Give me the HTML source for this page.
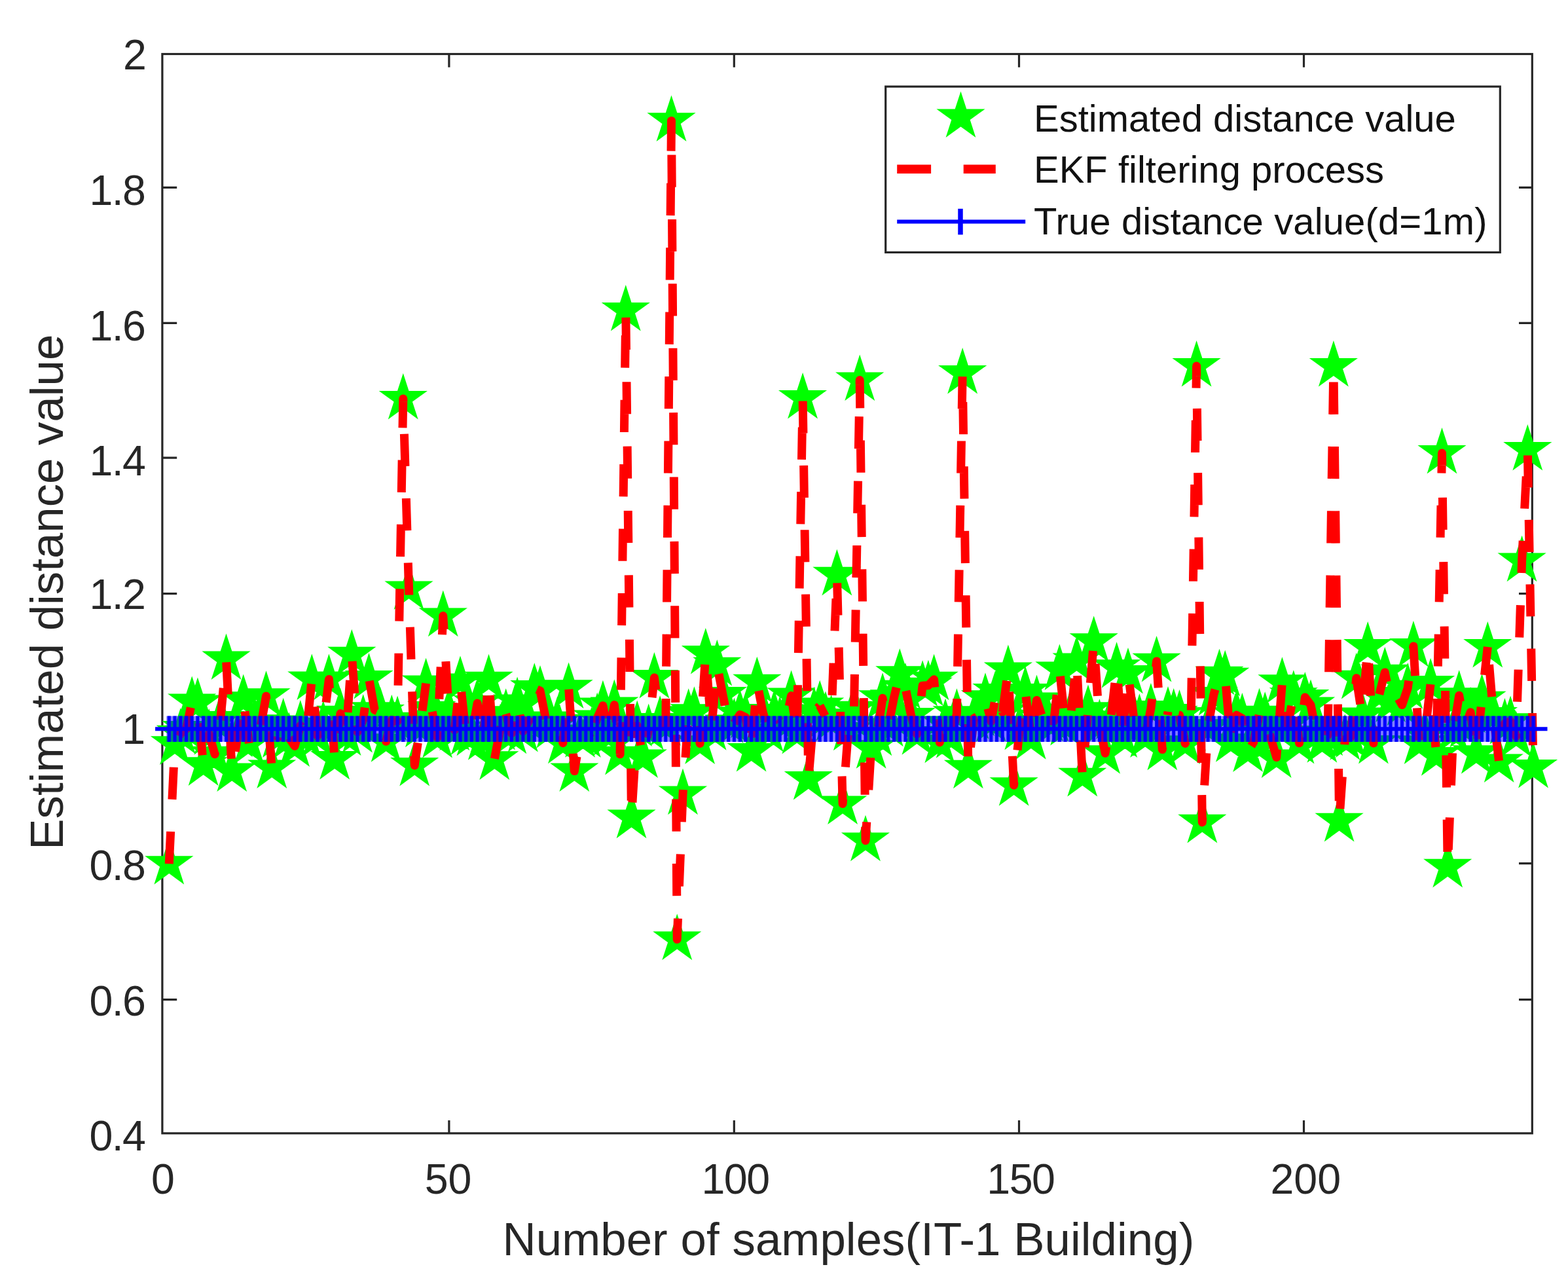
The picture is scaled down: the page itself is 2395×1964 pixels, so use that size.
<!DOCTYPE html>
<html lang="en"><head><meta charset="utf-8"><title>Estimated distance value</title>
<style>html,body{margin:0;padding:0;background:#fff;}body{width:2395px;height:1964px;overflow:hidden;}svg{display:block;}text{font-family:"Liberation Sans",sans-serif;fill:#262626;}</style>
</head><body>
<svg width="2395" height="1964" viewBox="0 0 2395 1964">
<rect x="0" y="0" width="2395" height="1964" fill="#ffffff"/>
<g id="axes" stroke="#262626" stroke-width="3.2" fill="none" stroke-linecap="butt">
<rect x="247.9" y="82.5" width="2092.4" height="1648.3"/>
<path d="M685.9,1730.8V1710.9 M685.9,82.5V102.8"/>
<path d="M1121.3,1730.8V1710.9 M1121.3,82.5V102.8"/>
<path d="M1556.5,1730.8V1710.9 M1556.5,82.5V102.8"/>
<path d="M1991.5,1730.8V1710.9 M1991.5,82.5V102.8"/>
<path d="M247.9,1526.6H270.2 M2340.3,1526.6H2320.0"/>
<path d="M247.9,1318.7H270.2 M2340.3,1318.7H2320.0"/>
<path d="M247.9,1112.7H270.2 M2340.3,1112.7H2320.0"/>
<path d="M247.9,906.6H270.2 M2340.3,906.6H2320.0"/>
<path d="M247.9,699.1H270.2 M2340.3,699.1H2320.0"/>
<path d="M247.9,493.3H270.2 M2340.3,493.3H2320.0"/>
<path d="M247.9,286.4H270.2 M2340.3,286.4H2320.0"/>
</g>
<g id="est" fill="#00ff00">
<path d="M258.3,1280.2L267.1,1307.2L295.4,1307.2L272.5,1323.8L281.2,1350.8L258.3,1334.1L235.4,1350.8L244.1,1323.8L221.2,1307.2L249.6,1307.2ZM267.0,1097.4L275.8,1124.3L304.1,1124.3L281.2,1141.0L290.0,1167.9L267.0,1151.3L244.1,1167.9L252.9,1141.0L229.9,1124.3L258.3,1124.3ZM275.8,1080.9L284.5,1107.8L312.8,1107.8L289.9,1124.5L298.7,1151.5L275.8,1134.8L252.8,1151.5L261.6,1124.5L238.7,1107.8L267.0,1107.8ZM284.5,1074.1L293.2,1101.0L321.6,1101.0L298.6,1117.7L307.4,1144.7L284.5,1128.0L261.5,1144.7L270.3,1117.7L247.4,1101.0L275.7,1101.0ZM293.2,1032.5L301.9,1059.4L330.3,1059.4L307.4,1076.1L316.1,1103.0L293.2,1086.4L270.3,1103.0L279.0,1076.1L256.1,1059.4L284.4,1059.4ZM301.9,1034.5L310.7,1061.5L339.0,1061.5L316.1,1078.1L324.8,1105.1L301.9,1088.4L279.0,1105.1L287.7,1078.1L264.8,1061.5L293.2,1061.5ZM310.6,1129.3L319.4,1156.3L347.7,1156.3L324.8,1172.9L333.6,1199.9L310.6,1183.2L287.7,1199.9L296.5,1172.9L273.5,1156.3L301.9,1156.3ZM319.3,1082.1L328.1,1109.1L356.4,1109.1L333.5,1125.7L342.3,1152.7L319.3,1136.0L296.4,1152.7L305.2,1125.7L282.3,1109.1L310.6,1109.1ZM328.1,1112.8L336.8,1139.8L365.2,1139.8L342.2,1156.4L351.0,1183.4L328.1,1166.7L305.1,1183.4L313.9,1156.4L291.0,1139.8L319.3,1139.8ZM336.8,1059.0L345.5,1085.9L373.9,1085.9L351.0,1102.6L359.7,1129.5L336.8,1112.9L313.9,1129.5L322.6,1102.6L299.7,1085.9L328.0,1085.9ZM345.5,967.6L354.3,994.5L382.6,994.5L359.7,1011.2L368.4,1038.1L345.5,1021.5L322.6,1038.1L331.3,1011.2L308.4,994.5L336.7,994.5ZM354.2,1138.6L363.0,1165.5L391.3,1165.5L368.4,1182.2L377.1,1209.1L354.2,1192.5L331.3,1209.1L340.1,1182.2L317.1,1165.5L345.5,1165.5ZM362.9,1085.7L371.7,1112.7L400.0,1112.7L377.1,1129.3L385.9,1156.3L362.9,1139.6L340.0,1156.3L348.8,1129.3L325.8,1112.7L354.2,1112.7ZM371.7,1029.4L380.4,1056.3L408.7,1056.3L385.8,1073.0L394.6,1099.9L371.7,1083.3L348.7,1099.9L357.5,1073.0L334.6,1056.3L362.9,1056.3ZM380.4,1096.4L389.1,1123.3L417.5,1123.3L394.5,1140.0L403.3,1166.9L380.4,1150.2L357.5,1166.9L366.2,1140.0L343.3,1123.3L371.6,1123.3ZM389.1,1064.3L397.9,1091.3L426.2,1091.3L403.3,1107.9L412.0,1134.9L389.1,1118.2L366.2,1134.9L374.9,1107.9L352.0,1091.3L380.3,1091.3ZM397.8,1072.1L406.6,1099.1L434.9,1099.1L412.0,1115.7L420.7,1142.7L397.8,1126.0L374.9,1142.7L383.6,1115.7L360.7,1099.1L389.1,1099.1ZM406.5,1024.2L415.3,1051.2L443.6,1051.2L420.7,1067.8L429.5,1094.8L406.5,1078.1L383.6,1094.8L392.4,1067.8L369.4,1051.2L397.8,1051.2ZM415.2,1133.4L424.0,1160.4L452.3,1160.4L429.4,1177.0L438.2,1204.0L415.2,1187.3L392.3,1204.0L401.1,1177.0L378.2,1160.4L406.5,1160.4ZM424.0,1086.5L432.7,1113.4L461.1,1113.4L438.1,1130.1L446.9,1157.0L424.0,1140.4L401.0,1157.0L409.8,1130.1L386.9,1113.4L415.2,1113.4ZM432.7,1065.7L441.4,1092.6L469.8,1092.6L446.9,1109.3L455.6,1136.2L432.7,1119.6L409.8,1136.2L418.5,1109.3L395.6,1092.6L423.9,1092.6ZM441.4,1087.4L450.2,1114.3L478.5,1114.3L455.6,1131.0L464.3,1157.9L441.4,1141.3L418.5,1157.9L427.2,1131.0L404.3,1114.3L432.6,1114.3ZM450.1,1100.5L458.9,1127.4L487.2,1127.4L464.3,1144.1L473.0,1171.0L450.1,1154.4L427.2,1171.0L436.0,1144.1L413.0,1127.4L441.4,1127.4ZM458.8,1069.1L467.6,1096.0L495.9,1096.0L473.0,1112.7L481.8,1139.6L458.8,1122.9L435.9,1139.6L444.7,1112.7L421.7,1096.0L450.1,1096.0ZM467.6,1085.9L476.3,1112.9L504.6,1112.9L481.7,1129.6L490.5,1156.5L467.6,1139.8L444.6,1156.5L453.4,1129.6L430.5,1112.9L458.8,1112.9ZM476.3,998.5L485.0,1025.4L513.4,1025.4L490.4,1042.1L499.2,1069.0L476.3,1052.4L453.4,1069.0L462.1,1042.1L439.2,1025.4L467.5,1025.4ZM485.0,1084.9L493.8,1111.9L522.1,1111.9L499.2,1128.5L507.9,1155.5L485.0,1138.8L462.1,1155.5L470.8,1128.5L447.9,1111.9L476.2,1111.9ZM493.7,1069.5L502.5,1096.4L530.8,1096.4L507.9,1113.1L516.6,1140.0L493.7,1123.4L470.8,1140.0L479.5,1113.1L456.6,1096.4L485.0,1096.4ZM502.4,998.5L511.2,1025.4L539.5,1025.4L516.6,1042.1L525.4,1069.0L502.4,1052.4L479.5,1069.0L488.3,1042.1L465.3,1025.4L493.7,1025.4ZM511.1,1120.0L519.9,1147.0L548.2,1147.0L525.3,1163.6L534.1,1190.6L511.1,1173.9L488.2,1190.6L497.0,1163.6L474.1,1147.0L502.4,1147.0ZM519.9,1050.8L528.6,1077.8L557.0,1077.8L534.0,1094.4L542.8,1121.4L519.9,1104.7L496.9,1121.4L505.7,1094.4L482.8,1077.8L511.1,1077.8ZM528.6,1083.4L537.3,1110.3L565.7,1110.3L542.8,1127.0L551.5,1153.9L528.6,1137.3L505.7,1153.9L514.4,1127.0L491.5,1110.3L519.8,1110.3ZM537.3,960.9L546.1,987.8L574.4,987.8L551.5,1004.5L560.2,1031.4L537.3,1014.8L514.4,1031.4L523.1,1004.5L500.2,987.8L528.5,987.8ZM546.0,1078.8L554.8,1105.8L583.1,1105.8L560.2,1122.4L568.9,1149.4L546.0,1132.7L523.1,1149.4L531.9,1122.4L508.9,1105.8L537.3,1105.8ZM554.7,1060.1L563.5,1087.0L591.8,1087.0L568.9,1103.7L577.7,1130.6L554.7,1114.0L531.8,1130.6L540.6,1103.7L517.7,1087.0L546.0,1087.0ZM563.5,996.9L572.2,1023.9L600.6,1023.9L577.6,1040.5L586.4,1067.5L563.5,1050.8L540.5,1067.5L549.3,1040.5L526.4,1023.9L554.7,1023.9ZM572.2,1045.3L580.9,1072.2L609.3,1072.2L586.3,1088.9L595.1,1115.8L572.2,1099.2L549.3,1115.8L558.0,1088.9L535.1,1072.2L563.4,1072.2ZM580.9,1049.0L589.7,1075.9L618.0,1075.9L595.1,1092.6L603.8,1119.5L580.9,1102.9L558.0,1119.5L566.7,1092.6L543.8,1075.9L572.1,1075.9ZM589.6,1093.3L598.4,1120.2L626.7,1120.2L603.8,1136.9L612.5,1163.8L589.6,1147.2L566.7,1163.8L575.4,1136.9L552.5,1120.2L580.9,1120.2ZM598.3,1060.7L607.1,1087.7L635.4,1087.7L612.5,1104.3L621.3,1131.3L598.3,1114.6L575.4,1131.3L584.2,1104.3L561.2,1087.7L589.6,1087.7ZM607.1,1062.4L615.8,1089.3L644.1,1089.3L621.2,1106.0L630.0,1132.9L607.1,1116.3L584.1,1132.9L592.9,1106.0L570.0,1089.3L598.3,1089.3ZM615.8,569.9L624.5,596.9L652.9,596.9L629.9,613.5L638.7,640.5L615.8,623.8L592.8,640.5L601.6,613.5L578.7,596.9L607.0,596.9ZM624.5,860.4L633.2,887.4L661.6,887.4L638.7,904.0L647.4,931.0L624.5,914.3L601.6,931.0L610.3,904.0L587.4,887.4L615.7,887.4ZM633.2,1129.9L642.0,1156.9L670.3,1156.9L647.4,1173.5L656.1,1200.5L633.2,1183.8L610.3,1200.5L619.0,1173.5L596.1,1156.9L624.4,1156.9ZM641.9,1070.7L650.7,1097.6L679.0,1097.6L656.1,1114.3L664.8,1141.3L641.9,1124.6L619.0,1141.3L627.8,1114.3L604.8,1097.6L633.2,1097.6ZM650.6,1004.7L659.4,1031.6L687.7,1031.6L664.8,1048.3L673.6,1075.2L650.6,1058.6L627.7,1075.2L636.5,1048.3L613.6,1031.6L641.9,1031.6ZM659.4,1043.9L668.1,1070.9L696.5,1070.9L673.5,1087.5L682.3,1114.5L659.4,1097.8L636.4,1114.5L645.2,1087.5L622.3,1070.9L650.6,1070.9ZM668.1,1087.0L676.8,1113.9L705.2,1113.9L682.2,1130.6L691.0,1157.5L668.1,1140.9L645.2,1157.5L653.9,1130.6L631.0,1113.9L659.3,1113.9ZM676.8,901.6L685.6,928.6L713.9,928.6L691.0,945.2L699.7,972.2L676.8,955.5L653.9,972.2L662.6,945.2L639.7,928.6L668.0,928.6ZM685.5,1049.4L694.3,1076.3L722.6,1076.3L699.7,1093.0L708.4,1119.9L685.5,1103.3L662.6,1119.9L671.3,1093.0L648.4,1076.3L676.8,1076.3ZM694.2,1075.7L703.0,1102.7L731.3,1102.7L708.4,1119.4L717.2,1146.3L694.2,1129.6L671.3,1146.3L680.1,1119.4L657.1,1102.7L685.5,1102.7ZM703.0,1001.6L711.7,1028.5L740.0,1028.5L717.1,1045.2L725.9,1072.1L703.0,1055.5L680.0,1072.1L688.8,1045.2L665.9,1028.5L694.2,1028.5ZM711.7,1082.4L720.4,1109.4L748.8,1109.4L725.8,1126.0L734.6,1153.0L711.7,1136.3L688.7,1153.0L697.5,1126.0L674.6,1109.4L702.9,1109.4ZM720.4,1083.7L729.1,1110.6L757.5,1110.6L734.6,1127.3L743.3,1154.2L720.4,1137.6L697.5,1154.2L706.2,1127.3L683.3,1110.6L711.6,1110.6ZM729.1,1035.1L737.9,1062.0L766.2,1062.0L743.3,1078.7L752.0,1105.6L729.1,1089.0L706.2,1105.6L714.9,1078.7L692.0,1062.0L720.4,1062.0ZM737.8,1090.2L746.6,1117.1L774.9,1117.1L752.0,1133.8L760.8,1160.7L737.8,1144.1L714.9,1160.7L723.7,1133.8L700.7,1117.1L729.1,1117.1ZM746.5,998.8L755.3,1025.7L783.6,1025.7L760.7,1042.4L769.5,1069.3L746.5,1052.7L723.6,1069.3L732.4,1042.4L709.5,1025.7L737.8,1025.7ZM755.3,1120.4L764.0,1147.3L792.4,1147.3L769.4,1164.0L778.2,1190.9L755.3,1174.3L732.3,1190.9L741.1,1164.0L718.2,1147.3L746.5,1147.3ZM764.0,1074.8L772.7,1101.8L801.1,1101.8L778.2,1118.4L786.9,1145.4L764.0,1128.7L741.1,1145.4L749.8,1118.4L726.9,1101.8L755.2,1101.8ZM772.7,1051.3L781.5,1078.3L809.8,1078.3L786.9,1094.9L795.6,1121.9L772.7,1105.2L749.8,1121.9L758.5,1094.9L735.6,1078.3L763.9,1078.3ZM781.4,1080.8L790.2,1107.7L818.5,1107.7L795.6,1124.4L804.3,1151.3L781.4,1134.7L758.5,1151.3L767.2,1124.4L744.3,1107.7L772.7,1107.7ZM790.1,1033.5L798.9,1060.5L827.2,1060.5L804.3,1077.1L813.1,1104.1L790.1,1087.4L767.2,1104.1L776.0,1077.1L753.0,1060.5L781.4,1060.5ZM798.9,1077.8L807.6,1104.8L835.9,1104.8L813.0,1121.4L821.8,1148.4L798.9,1131.7L775.9,1148.4L784.7,1121.4L761.8,1104.8L790.1,1104.8ZM807.6,1062.1L816.3,1089.1L844.7,1089.1L821.7,1105.8L830.5,1132.7L807.6,1116.0L784.6,1132.7L793.4,1105.8L770.5,1089.1L798.8,1089.1ZM816.3,1012.2L825.0,1039.1L853.4,1039.1L830.5,1055.8L839.2,1082.7L816.3,1066.1L793.4,1082.7L802.1,1055.8L779.2,1039.1L807.5,1039.1ZM825.0,1016.0L833.8,1042.9L862.1,1042.9L839.2,1059.6L847.9,1086.5L825.0,1069.9L802.1,1086.5L810.8,1059.6L787.9,1042.9L816.3,1042.9ZM833.7,1059.5L842.5,1086.4L870.8,1086.4L847.9,1103.1L856.7,1130.0L833.7,1113.4L810.8,1130.0L819.6,1103.1L796.6,1086.4L825.0,1086.4ZM842.4,1071.8L851.2,1098.8L879.5,1098.8L856.6,1115.4L865.4,1142.4L842.4,1125.7L819.5,1142.4L828.3,1115.4L805.4,1098.8L833.7,1098.8ZM851.2,1063.8L859.9,1090.7L888.3,1090.7L865.3,1107.4L874.1,1134.3L851.2,1117.7L828.2,1134.3L837.0,1107.4L814.1,1090.7L842.4,1090.7ZM859.9,1095.7L868.6,1122.7L897.0,1122.7L874.1,1139.3L882.8,1166.3L859.9,1149.6L837.0,1166.3L845.7,1139.3L822.8,1122.7L851.1,1122.7ZM868.6,1011.4L877.4,1038.3L905.7,1038.3L882.8,1055.0L891.5,1081.9L868.6,1065.3L845.7,1081.9L854.4,1055.0L831.5,1038.3L859.8,1038.3ZM877.3,1138.6L886.1,1165.5L914.4,1165.5L891.5,1182.2L900.2,1209.1L877.3,1192.5L854.4,1209.1L863.2,1182.2L840.2,1165.5L868.6,1165.5ZM886.0,1086.3L894.8,1113.2L923.1,1113.2L900.2,1129.9L909.0,1156.8L886.0,1140.2L863.1,1156.8L871.9,1129.9L848.9,1113.2L877.3,1113.2ZM894.8,1086.4L903.5,1113.3L931.8,1113.3L908.9,1130.0L917.7,1156.9L894.8,1140.3L871.8,1156.9L880.6,1130.0L857.7,1113.3L886.0,1113.3ZM903.5,1079.6L912.2,1106.5L940.6,1106.5L917.6,1123.2L926.4,1150.1L903.5,1133.5L880.6,1150.1L889.3,1123.2L866.4,1106.5L894.7,1106.5ZM912.2,1057.6L921.0,1084.6L949.3,1084.6L926.4,1101.2L935.1,1128.2L912.2,1111.5L889.3,1128.2L898.0,1101.2L875.1,1084.6L903.4,1084.6ZM920.9,1038.7L929.7,1065.6L958.0,1065.6L935.1,1082.3L943.8,1109.2L920.9,1092.6L898.0,1109.2L906.7,1082.3L883.8,1065.6L912.2,1065.6ZM929.6,1083.3L938.4,1110.2L966.7,1110.2L943.8,1126.9L952.6,1153.8L929.6,1137.2L906.7,1153.8L915.5,1126.9L892.5,1110.2L920.9,1110.2ZM938.3,1037.6L947.1,1064.6L975.4,1064.6L952.5,1081.2L961.3,1108.2L938.3,1091.5L915.4,1108.2L924.2,1081.2L901.3,1064.6L929.6,1064.6ZM947.1,1112.8L955.8,1139.8L984.2,1139.8L961.2,1156.4L970.0,1183.4L947.1,1166.7L924.1,1183.4L932.9,1156.4L910.0,1139.8L938.3,1139.8ZM955.8,435.0L964.5,461.9L992.9,461.9L970.0,478.6L978.7,505.5L955.8,488.9L932.9,505.5L941.6,478.6L918.7,461.9L947.0,461.9ZM964.5,1209.7L973.3,1236.6L1001.6,1236.6L978.7,1253.3L987.4,1280.2L964.5,1263.6L941.6,1280.2L950.3,1253.3L927.4,1236.6L955.7,1236.6ZM973.2,1069.4L982.0,1096.3L1010.3,1096.3L987.4,1113.0L996.1,1139.9L973.2,1123.3L950.3,1139.9L959.1,1113.0L936.1,1096.3L964.5,1096.3ZM981.9,1117.5L990.7,1144.4L1019.0,1144.4L996.1,1161.1L1004.9,1188.0L981.9,1171.4L959.0,1188.0L967.8,1161.1L944.8,1144.4L973.2,1144.4ZM990.7,1074.6L999.4,1101.6L1027.7,1101.6L1004.8,1118.2L1013.6,1145.2L990.7,1128.5L967.7,1145.2L976.5,1118.2L953.6,1101.6L981.9,1101.6ZM999.4,996.0L1008.1,1023.0L1036.5,1023.0L1013.5,1039.6L1022.3,1066.6L999.4,1049.9L976.5,1066.6L985.2,1039.6L962.3,1023.0L990.6,1023.0ZM1008.1,1061.9L1016.9,1088.9L1045.2,1088.9L1022.3,1105.5L1031.0,1132.5L1008.1,1115.8L985.2,1132.5L993.9,1105.5L971.0,1088.9L999.3,1088.9ZM1016.8,1068.1L1025.6,1095.1L1053.9,1095.1L1031.0,1111.7L1039.7,1138.7L1016.8,1122.0L993.9,1138.7L1002.6,1111.7L979.7,1095.1L1008.1,1095.1ZM1025.5,145.4L1034.3,172.3L1062.6,172.3L1039.7,189.0L1048.5,215.9L1025.5,199.3L1002.6,215.9L1011.4,189.0L988.4,172.3L1016.8,172.3ZM1034.2,1395.6L1043.0,1422.6L1071.3,1422.6L1048.4,1439.2L1057.2,1466.2L1034.2,1449.5L1011.3,1466.2L1020.1,1439.2L997.2,1422.6L1025.5,1422.6ZM1043.0,1173.6L1051.7,1200.6L1080.1,1200.6L1057.1,1217.2L1065.9,1244.2L1043.0,1227.5L1020.0,1244.2L1028.8,1217.2L1005.9,1200.6L1034.2,1200.6ZM1051.7,1051.2L1060.4,1078.2L1088.8,1078.2L1065.9,1094.8L1074.6,1121.8L1051.7,1105.1L1028.8,1121.8L1037.5,1094.8L1014.6,1078.2L1042.9,1078.2ZM1060.4,1048.2L1069.2,1075.2L1097.5,1075.2L1074.6,1091.8L1083.3,1118.8L1060.4,1102.1L1037.5,1118.8L1046.2,1091.8L1023.3,1075.2L1051.6,1075.2ZM1069.1,1096.4L1077.9,1123.3L1106.2,1123.3L1083.3,1140.0L1092.0,1166.9L1069.1,1150.2L1046.2,1166.9L1055.0,1140.0L1032.0,1123.3L1060.4,1123.3ZM1077.8,958.9L1086.6,985.9L1114.9,985.9L1092.0,1002.5L1100.8,1029.5L1077.8,1012.8L1054.9,1029.5L1063.7,1002.5L1040.8,985.9L1069.1,985.9ZM1086.6,1075.2L1095.3,1102.2L1123.7,1102.2L1100.7,1118.8L1109.5,1145.8L1086.6,1129.1L1063.6,1145.8L1072.4,1118.8L1049.5,1102.2L1077.8,1102.2ZM1095.3,976.8L1104.0,1003.8L1132.4,1003.8L1109.4,1020.5L1118.2,1047.4L1095.3,1030.7L1072.4,1047.4L1081.1,1020.5L1058.2,1003.8L1086.5,1003.8ZM1104.0,1022.2L1112.8,1049.1L1141.1,1049.1L1118.2,1065.8L1126.9,1092.7L1104.0,1076.1L1081.1,1092.7L1089.8,1065.8L1066.9,1049.1L1095.2,1049.1ZM1112.7,1064.4L1121.5,1091.4L1149.8,1091.4L1126.9,1108.0L1135.6,1135.0L1112.7,1118.3L1089.8,1135.0L1098.5,1108.0L1075.6,1091.4L1104.0,1091.4ZM1121.4,1065.4L1130.2,1092.4L1158.5,1092.4L1135.6,1109.0L1144.4,1136.0L1121.4,1119.3L1098.5,1136.0L1107.3,1109.0L1084.3,1092.4L1112.7,1092.4ZM1130.2,1052.4L1138.9,1079.3L1167.2,1079.3L1144.3,1096.0L1153.1,1122.9L1130.2,1106.3L1107.2,1122.9L1116.0,1096.0L1093.1,1079.3L1121.4,1079.3ZM1138.9,1056.7L1147.6,1083.6L1176.0,1083.6L1153.0,1100.3L1161.8,1127.2L1138.9,1110.6L1115.9,1127.2L1124.7,1100.3L1101.8,1083.6L1130.1,1083.6ZM1147.6,1108.1L1156.3,1135.0L1184.7,1135.0L1161.8,1151.7L1170.5,1178.6L1147.6,1162.0L1124.7,1178.6L1133.4,1151.7L1110.5,1135.0L1138.8,1135.0ZM1156.3,1002.7L1165.1,1029.7L1193.4,1029.7L1170.5,1046.3L1179.2,1073.3L1156.3,1056.6L1133.4,1073.3L1142.1,1046.3L1119.2,1029.7L1147.5,1029.7ZM1165.0,1047.9L1173.8,1074.9L1202.1,1074.9L1179.2,1091.5L1187.9,1118.5L1165.0,1101.8L1142.1,1118.5L1150.9,1091.5L1127.9,1074.9L1156.3,1074.9ZM1173.7,1077.8L1182.5,1104.8L1210.8,1104.8L1187.9,1121.4L1196.7,1148.4L1173.7,1131.7L1150.8,1148.4L1159.6,1121.4L1136.7,1104.8L1165.0,1104.8ZM1182.5,1053.1L1191.2,1080.0L1219.6,1080.0L1196.6,1096.7L1205.4,1123.6L1182.5,1107.0L1159.5,1123.6L1168.3,1096.7L1145.4,1080.0L1173.7,1080.0ZM1191.2,1062.6L1199.9,1089.5L1228.3,1089.5L1205.3,1106.2L1214.1,1133.1L1191.2,1116.5L1168.3,1133.1L1177.0,1106.2L1154.1,1089.5L1182.4,1089.5ZM1199.9,1064.8L1208.7,1091.8L1237.0,1091.8L1214.1,1108.4L1222.8,1135.4L1199.9,1118.7L1177.0,1135.4L1185.7,1108.4L1162.8,1091.8L1191.1,1091.8ZM1208.6,1023.6L1217.4,1050.6L1245.7,1050.6L1222.8,1067.2L1231.5,1094.2L1208.6,1077.5L1185.7,1094.2L1194.4,1067.2L1171.5,1050.6L1199.9,1050.6ZM1217.3,1080.9L1226.1,1107.8L1254.4,1107.8L1231.5,1124.5L1240.3,1151.5L1217.3,1134.8L1194.4,1151.5L1203.2,1124.5L1180.2,1107.8L1208.6,1107.8ZM1226.1,569.0L1234.8,595.9L1263.1,595.9L1240.2,612.6L1249.0,639.6L1226.1,622.9L1203.1,639.6L1211.9,612.6L1189.0,595.9L1217.3,595.9ZM1234.8,1151.0L1243.5,1177.9L1271.9,1177.9L1248.9,1194.6L1257.7,1221.5L1234.8,1204.8L1211.8,1221.5L1220.6,1194.6L1197.7,1177.9L1226.0,1177.9ZM1243.5,1048.6L1252.2,1075.5L1280.6,1075.5L1257.7,1092.2L1266.4,1119.1L1243.5,1102.4L1220.6,1119.1L1229.3,1092.2L1206.4,1075.5L1234.7,1075.5ZM1252.2,1038.7L1261.0,1065.6L1289.3,1065.6L1266.4,1082.3L1275.1,1109.2L1252.2,1092.6L1229.3,1109.2L1238.0,1082.3L1215.1,1065.6L1243.5,1065.6ZM1260.9,1055.4L1269.7,1082.3L1298.0,1082.3L1275.1,1099.0L1283.9,1125.9L1260.9,1109.2L1238.0,1125.9L1246.8,1099.0L1223.8,1082.3L1252.2,1082.3ZM1269.6,1060.7L1278.4,1087.7L1306.7,1087.7L1283.8,1104.3L1292.6,1131.3L1269.6,1114.6L1246.7,1131.3L1255.5,1104.3L1232.6,1087.7L1260.9,1087.7ZM1278.4,838.8L1287.1,865.8L1315.5,865.8L1292.5,882.4L1301.3,909.4L1278.4,892.7L1255.4,909.4L1264.2,882.4L1241.3,865.8L1269.6,865.8ZM1287.1,1188.6L1295.8,1215.5L1324.2,1215.5L1301.3,1232.2L1310.0,1259.1L1287.1,1242.5L1264.2,1259.1L1272.9,1232.2L1250.0,1215.5L1278.3,1215.5ZM1295.8,1075.7L1304.6,1102.7L1332.9,1102.7L1310.0,1119.4L1318.7,1146.3L1295.8,1129.6L1272.9,1146.3L1281.6,1119.4L1258.7,1102.7L1287.0,1102.7ZM1304.5,1043.7L1313.3,1070.7L1341.6,1070.7L1318.7,1087.3L1327.4,1114.3L1304.5,1097.6L1281.6,1114.3L1290.3,1087.3L1267.4,1070.7L1295.8,1070.7ZM1313.2,541.6L1322.0,568.5L1350.3,568.5L1327.4,585.2L1336.2,612.1L1313.2,595.5L1290.3,612.1L1299.1,585.2L1276.1,568.5L1304.5,568.5ZM1322.0,1244.7L1330.7,1271.6L1359.0,1271.6L1336.1,1288.3L1344.9,1315.3L1322.0,1298.6L1299.0,1315.3L1307.8,1288.3L1284.9,1271.6L1313.2,1271.6ZM1330.7,1103.3L1339.4,1130.2L1367.8,1130.2L1344.8,1146.9L1353.6,1173.8L1330.7,1157.2L1307.7,1173.8L1316.5,1146.9L1293.6,1130.2L1321.9,1130.2ZM1339.4,1083.7L1348.1,1110.6L1376.5,1110.6L1353.6,1127.3L1362.3,1154.2L1339.4,1137.6L1316.5,1154.2L1325.2,1127.3L1302.3,1110.6L1330.6,1110.6ZM1348.1,1027.3L1356.9,1054.3L1385.2,1054.3L1362.3,1070.9L1371.0,1097.9L1348.1,1081.2L1325.2,1097.9L1333.9,1070.9L1311.0,1054.3L1339.4,1054.3ZM1356.8,1069.8L1365.6,1096.7L1393.9,1096.7L1371.0,1113.4L1379.8,1140.3L1356.8,1123.7L1333.9,1140.3L1342.7,1113.4L1319.7,1096.7L1348.1,1096.7ZM1365.5,1026.3L1374.3,1053.2L1402.6,1053.2L1379.7,1069.9L1388.5,1096.9L1365.5,1080.2L1342.6,1096.9L1351.4,1069.9L1328.5,1053.2L1356.8,1053.2ZM1374.3,990.2L1383.0,1017.2L1411.4,1017.2L1388.4,1033.8L1397.2,1060.8L1374.3,1044.1L1351.3,1060.8L1360.1,1033.8L1337.2,1017.2L1365.5,1017.2ZM1383.0,1011.9L1391.7,1038.8L1420.1,1038.8L1397.2,1055.5L1405.9,1082.4L1383.0,1065.8L1360.1,1082.4L1368.8,1055.5L1345.9,1038.8L1374.2,1038.8ZM1391.7,1054.0L1400.5,1081.0L1428.8,1081.0L1405.9,1097.6L1414.6,1124.6L1391.7,1107.9L1368.8,1124.6L1377.5,1097.6L1354.6,1081.0L1382.9,1081.0ZM1400.4,1082.1L1409.2,1109.1L1437.5,1109.1L1414.6,1125.7L1423.3,1152.7L1400.4,1136.0L1377.5,1152.7L1386.3,1125.7L1363.3,1109.1L1391.7,1109.1ZM1409.1,1008.3L1417.9,1035.2L1446.2,1035.2L1423.3,1051.9L1432.1,1078.8L1409.1,1062.2L1386.2,1078.8L1395.0,1051.9L1372.0,1035.2L1400.4,1035.2ZM1417.9,1007.8L1426.6,1034.7L1454.9,1034.7L1432.0,1051.4L1440.8,1078.3L1417.9,1061.7L1394.9,1078.3L1403.7,1051.4L1380.8,1034.7L1409.1,1034.7ZM1426.6,998.8L1435.3,1025.7L1463.7,1025.7L1440.7,1042.4L1449.5,1069.3L1426.6,1052.7L1403.7,1069.3L1412.4,1042.4L1389.5,1025.7L1417.8,1025.7ZM1435.3,1094.7L1444.1,1121.7L1472.4,1121.7L1449.5,1138.3L1458.2,1165.3L1435.3,1148.6L1412.4,1165.3L1421.1,1138.3L1398.2,1121.7L1426.5,1121.7ZM1444.0,1066.5L1452.8,1093.4L1481.1,1093.4L1458.2,1110.1L1466.9,1137.0L1444.0,1120.4L1421.1,1137.0L1429.8,1110.1L1406.9,1093.4L1435.3,1093.4ZM1452.7,1087.3L1461.5,1114.2L1489.8,1114.2L1466.9,1130.9L1475.7,1157.8L1452.7,1141.2L1429.8,1157.8L1438.6,1130.9L1415.6,1114.2L1444.0,1114.2ZM1461.4,1051.2L1470.2,1078.2L1498.5,1078.2L1475.6,1094.8L1484.4,1121.8L1461.4,1105.1L1438.5,1121.8L1447.3,1094.8L1424.4,1078.2L1452.7,1078.2ZM1470.2,531.0L1478.9,557.9L1507.3,557.9L1484.3,574.6L1493.1,601.5L1470.2,584.9L1447.2,601.5L1456.0,574.6L1433.1,557.9L1461.4,557.9ZM1478.9,1133.7L1487.6,1160.7L1516.0,1160.7L1493.1,1177.4L1501.8,1204.3L1478.9,1187.6L1456.0,1204.3L1464.7,1177.4L1441.8,1160.7L1470.1,1160.7ZM1487.6,1058.1L1496.4,1085.1L1524.7,1085.1L1501.8,1101.7L1510.5,1128.7L1487.6,1112.0L1464.7,1128.7L1473.4,1101.7L1450.5,1085.1L1478.8,1085.1ZM1496.3,1053.7L1505.1,1080.6L1533.4,1080.7L1510.5,1097.3L1519.2,1124.3L1496.3,1107.6L1473.4,1124.3L1482.2,1097.3L1459.2,1080.7L1487.6,1080.6ZM1505.0,1027.3L1513.8,1054.3L1542.1,1054.3L1519.2,1070.9L1528.0,1097.9L1505.0,1081.2L1482.1,1097.9L1490.9,1070.9L1467.9,1054.3L1496.3,1054.3ZM1513.8,1062.6L1522.5,1089.5L1550.8,1089.5L1527.9,1106.2L1536.7,1133.1L1513.8,1116.5L1490.8,1133.1L1499.6,1106.2L1476.7,1089.5L1505.0,1089.5ZM1522.5,1017.0L1531.2,1044.0L1559.6,1044.0L1536.6,1060.6L1545.4,1087.6L1522.5,1070.9L1499.6,1087.6L1508.3,1060.6L1485.4,1044.0L1513.7,1044.0ZM1531.2,1048.6L1540.0,1075.5L1568.3,1075.5L1545.4,1092.2L1554.1,1119.1L1531.2,1102.4L1508.3,1119.1L1517.0,1092.2L1494.1,1075.5L1522.4,1075.5ZM1539.9,984.5L1548.7,1011.4L1577.0,1011.4L1554.1,1028.1L1562.8,1055.0L1539.9,1038.4L1517.0,1055.0L1525.7,1028.1L1502.8,1011.4L1531.2,1011.4ZM1548.6,1160.2L1557.4,1187.2L1585.7,1187.2L1562.8,1203.8L1571.6,1230.8L1548.6,1214.1L1525.7,1230.8L1534.5,1203.8L1511.5,1187.2L1539.9,1187.2ZM1557.3,1074.6L1566.1,1101.6L1594.4,1101.6L1571.5,1118.2L1580.3,1145.2L1557.3,1128.5L1534.4,1145.2L1543.2,1118.2L1520.3,1101.6L1548.6,1101.6ZM1566.1,1017.0L1574.8,1044.0L1603.2,1044.0L1580.2,1060.6L1589.0,1087.6L1566.1,1070.9L1543.1,1087.6L1551.9,1060.6L1529.0,1044.0L1557.3,1044.0ZM1574.8,1089.1L1583.5,1116.1L1611.9,1116.1L1589.0,1132.7L1597.7,1159.7L1574.8,1143.0L1551.9,1159.7L1560.6,1132.7L1537.7,1116.1L1566.0,1116.1ZM1583.5,1030.4L1592.3,1057.4L1620.6,1057.4L1597.7,1074.0L1606.4,1101.0L1583.5,1084.3L1560.6,1101.0L1569.3,1074.0L1546.4,1057.4L1574.7,1057.4ZM1592.2,1056.9L1601.0,1083.8L1629.3,1083.8L1606.4,1100.5L1615.1,1127.4L1592.2,1110.8L1569.3,1127.4L1578.1,1100.5L1555.1,1083.8L1583.5,1083.8ZM1600.9,1061.6L1609.7,1088.6L1638.0,1088.6L1615.1,1105.2L1623.9,1132.2L1600.9,1115.5L1578.0,1132.2L1586.8,1105.2L1563.9,1088.6L1592.2,1088.6ZM1609.7,1062.3L1618.4,1089.2L1646.8,1089.2L1623.8,1105.9L1632.6,1132.8L1609.7,1116.2L1586.7,1132.8L1595.5,1105.9L1572.6,1089.2L1600.9,1089.2ZM1618.4,983.5L1627.1,1010.5L1655.5,1010.5L1632.5,1027.1L1641.3,1054.1L1618.4,1037.4L1595.5,1054.1L1604.2,1027.1L1581.3,1010.5L1609.6,1010.5ZM1627.1,1068.0L1635.9,1095.0L1664.2,1095.0L1641.3,1111.6L1650.0,1138.6L1627.1,1121.9L1604.2,1138.6L1612.9,1111.6L1590.0,1095.0L1618.3,1095.0ZM1635.8,1050.2L1644.6,1077.1L1672.9,1077.1L1650.0,1093.8L1658.7,1120.8L1635.8,1104.1L1612.9,1120.8L1621.6,1093.8L1598.7,1077.1L1627.1,1077.1ZM1644.5,970.7L1653.3,997.6L1681.6,997.6L1658.7,1014.3L1667.5,1041.2L1644.5,1024.6L1621.6,1041.2L1630.4,1014.3L1607.4,997.6L1635.8,997.6ZM1653.3,1145.8L1662.0,1172.7L1690.3,1172.7L1667.4,1189.4L1676.2,1216.4L1653.3,1199.7L1630.3,1216.4L1639.1,1189.4L1616.2,1172.7L1644.5,1172.7ZM1662.0,1045.4L1670.7,1072.3L1699.1,1072.3L1676.1,1089.0L1684.9,1115.9L1662.0,1099.3L1639.0,1115.9L1647.8,1089.0L1624.9,1072.3L1653.2,1072.3ZM1670.7,940.4L1679.4,967.3L1707.8,967.3L1684.9,984.0L1693.6,1010.9L1670.7,994.3L1647.8,1010.9L1656.5,984.0L1633.6,967.3L1661.9,967.3ZM1679.4,1067.2L1688.2,1094.1L1716.5,1094.1L1693.6,1110.8L1702.3,1137.7L1679.4,1121.1L1656.5,1137.7L1665.2,1110.8L1642.3,1094.1L1670.6,1094.1ZM1688.1,1111.3L1696.9,1138.2L1725.2,1138.2L1702.3,1154.9L1711.0,1181.8L1688.1,1165.2L1665.2,1181.8L1674.0,1154.9L1651.0,1138.2L1679.4,1138.2ZM1696.8,1058.3L1705.6,1085.3L1733.9,1085.3L1711.0,1101.9L1719.8,1128.9L1696.8,1112.2L1673.9,1128.9L1682.7,1101.9L1659.8,1085.3L1688.1,1085.3ZM1705.6,980.2L1714.3,1007.2L1742.7,1007.2L1719.7,1023.9L1728.5,1050.8L1705.6,1034.1L1682.6,1050.8L1691.4,1023.9L1668.5,1007.2L1696.8,1007.2ZM1714.3,1086.4L1723.0,1113.3L1751.4,1113.3L1728.4,1130.0L1737.2,1156.9L1714.3,1140.3L1691.4,1156.9L1700.1,1130.0L1677.2,1113.3L1705.5,1113.3ZM1723.0,988.9L1731.8,1015.9L1760.1,1015.9L1737.2,1032.5L1745.9,1059.5L1723.0,1042.8L1700.1,1059.5L1708.8,1032.5L1685.9,1015.9L1714.2,1015.9ZM1731.7,1056.6L1740.5,1083.5L1768.8,1083.5L1745.9,1100.2L1754.6,1127.1L1731.7,1110.5L1708.8,1127.1L1717.5,1100.2L1694.6,1083.5L1723.0,1083.5ZM1740.4,1059.2L1749.2,1086.1L1777.5,1086.1L1754.6,1102.8L1763.4,1129.7L1740.4,1113.1L1717.5,1129.7L1726.3,1102.8L1703.3,1086.1L1731.7,1086.1ZM1749.2,1086.6L1757.9,1113.5L1786.2,1113.5L1763.3,1130.2L1772.1,1157.1L1749.2,1140.5L1726.2,1157.1L1735.0,1130.2L1712.1,1113.5L1740.4,1113.5ZM1757.9,1043.1L1766.6,1070.0L1795.0,1070.0L1772.0,1086.7L1780.8,1113.6L1757.9,1097.0L1734.9,1113.6L1743.7,1086.7L1720.8,1070.0L1749.1,1070.0ZM1766.6,970.9L1775.3,997.8L1803.7,997.8L1780.8,1014.5L1789.5,1041.4L1766.6,1024.8L1743.7,1041.4L1752.4,1014.5L1729.5,997.8L1757.8,997.8ZM1775.3,1105.6L1784.1,1132.6L1812.4,1132.6L1789.5,1149.2L1798.2,1176.2L1775.3,1159.5L1752.4,1176.2L1761.1,1149.2L1738.2,1132.6L1766.6,1132.6ZM1784.0,1047.9L1792.8,1074.9L1821.1,1074.9L1798.2,1091.5L1807.0,1118.5L1784.0,1101.8L1761.1,1118.5L1769.9,1091.5L1746.9,1074.9L1775.3,1074.9ZM1792.7,1051.0L1801.5,1078.0L1829.8,1078.0L1806.9,1094.6L1815.7,1121.6L1792.7,1104.9L1769.8,1121.6L1778.6,1094.6L1755.7,1078.0L1784.0,1078.0ZM1801.5,1053.1L1810.2,1080.0L1838.6,1080.0L1815.6,1096.7L1824.4,1123.6L1801.5,1107.0L1778.5,1123.6L1787.3,1096.7L1764.4,1080.0L1792.7,1080.0ZM1810.2,1096.4L1818.9,1123.3L1847.3,1123.3L1824.4,1140.0L1833.1,1166.9L1810.2,1150.2L1787.3,1166.9L1796.0,1140.0L1773.1,1123.3L1801.4,1123.3ZM1818.9,1076.0L1827.7,1102.9L1856.0,1102.9L1833.1,1119.6L1841.8,1146.5L1818.9,1129.9L1796.0,1146.5L1804.7,1119.6L1781.8,1102.9L1810.1,1102.9ZM1827.6,520.0L1836.4,546.9L1864.7,546.9L1841.8,563.6L1850.5,590.5L1827.6,573.9L1804.7,590.5L1813.4,563.6L1790.5,546.9L1818.9,546.9ZM1836.3,1216.9L1845.1,1243.8L1873.4,1243.8L1850.5,1260.5L1859.3,1287.4L1836.3,1270.8L1813.4,1287.4L1822.2,1260.5L1799.2,1243.8L1827.6,1243.8ZM1845.1,1071.2L1853.8,1098.2L1882.1,1098.2L1859.2,1114.8L1868.0,1141.8L1845.1,1125.1L1822.1,1141.8L1830.9,1114.8L1808.0,1098.2L1836.3,1098.2ZM1853.8,1022.2L1862.5,1049.1L1890.9,1049.1L1867.9,1065.8L1876.7,1092.7L1853.8,1076.1L1830.8,1092.7L1839.6,1065.8L1816.7,1049.1L1845.0,1049.1ZM1862.5,990.8L1871.2,1017.7L1899.6,1017.7L1876.7,1034.4L1885.4,1061.3L1862.5,1044.7L1839.6,1061.3L1848.3,1034.4L1825.4,1017.7L1853.7,1017.7ZM1871.2,992.7L1880.0,1019.7L1908.3,1019.7L1885.4,1036.3L1894.1,1063.3L1871.2,1046.6L1848.3,1063.3L1857.0,1036.3L1834.1,1019.7L1862.5,1019.7ZM1879.9,1093.3L1888.7,1120.2L1917.0,1120.2L1894.1,1136.9L1902.9,1163.8L1879.9,1147.2L1857.0,1163.8L1865.8,1136.9L1842.8,1120.2L1871.2,1120.2ZM1888.6,1053.1L1897.4,1080.0L1925.7,1080.0L1902.8,1096.7L1911.6,1123.6L1888.6,1107.0L1865.7,1123.6L1874.5,1096.7L1851.6,1080.0L1879.9,1080.0ZM1897.4,1058.1L1906.1,1085.1L1934.5,1085.1L1911.5,1101.7L1920.3,1128.7L1897.4,1112.0L1874.4,1128.7L1883.2,1101.7L1860.3,1085.1L1888.6,1085.1ZM1906.1,1108.5L1914.8,1135.5L1943.2,1135.5L1920.3,1152.1L1929.0,1179.1L1906.1,1162.4L1883.2,1179.1L1891.9,1152.1L1869.0,1135.5L1897.3,1135.5ZM1914.8,1094.3L1923.6,1121.2L1951.9,1121.2L1929.0,1137.9L1937.7,1164.8L1914.8,1148.2L1891.9,1164.8L1900.6,1137.9L1877.7,1121.2L1906.0,1121.2ZM1923.5,1050.7L1932.3,1077.7L1960.6,1077.7L1937.7,1094.3L1946.4,1121.3L1923.5,1104.6L1900.6,1121.3L1909.4,1094.3L1886.4,1077.7L1914.8,1077.7ZM1932.2,1056.2L1941.0,1083.1L1969.3,1083.1L1946.4,1099.8L1955.2,1126.7L1932.2,1110.1L1909.3,1126.7L1918.1,1099.8L1895.1,1083.1L1923.5,1083.1ZM1941.0,1088.1L1949.7,1115.1L1978.0,1115.1L1955.1,1131.7L1963.9,1158.7L1941.0,1142.0L1918.0,1158.7L1926.8,1131.7L1903.9,1115.1L1932.2,1115.1ZM1949.7,1117.5L1958.4,1144.4L1986.8,1144.4L1963.8,1161.1L1972.6,1188.0L1949.7,1171.4L1926.8,1188.0L1935.5,1161.1L1912.6,1144.4L1940.9,1144.4ZM1958.4,1003.2L1967.2,1030.2L1995.5,1030.2L1972.6,1046.8L1981.3,1073.8L1958.4,1057.1L1935.5,1073.8L1944.2,1046.8L1921.3,1030.2L1949.6,1030.2ZM1967.1,1067.7L1975.9,1094.7L2004.2,1094.7L1981.3,1111.3L1990.0,1138.3L1967.1,1121.6L1944.2,1138.3L1952.9,1111.3L1930.0,1094.7L1958.4,1094.7ZM1975.8,1023.2L1984.6,1050.2L2012.9,1050.2L1990.0,1066.8L1998.8,1093.8L1975.8,1077.1L1952.9,1093.8L1961.7,1066.8L1938.7,1050.2L1967.1,1050.2ZM1984.5,1095.8L1993.3,1122.8L2021.6,1122.8L1998.7,1139.4L2007.5,1166.4L1984.5,1149.7L1961.6,1166.4L1970.4,1139.4L1947.5,1122.8L1975.8,1122.8ZM1993.3,1026.0L2002.0,1052.9L2030.4,1052.9L2007.4,1069.6L2016.2,1096.5L1993.3,1079.9L1970.3,1096.5L1979.1,1069.6L1956.2,1052.9L1984.5,1052.9ZM2002.0,1037.6L2010.7,1064.6L2039.1,1064.6L2016.2,1081.2L2024.9,1108.2L2002.0,1091.5L1979.1,1108.2L1987.8,1081.2L1964.9,1064.6L1993.2,1064.6ZM2010.7,1081.3L2019.5,1108.3L2047.8,1108.3L2024.9,1124.9L2033.6,1151.9L2010.7,1135.2L1987.8,1151.9L1996.5,1124.9L1973.6,1108.3L2001.9,1108.3ZM2019.4,1094.3L2028.2,1121.2L2056.5,1121.2L2033.6,1137.9L2042.3,1164.8L2019.4,1148.2L1996.5,1164.8L2005.3,1137.9L1982.3,1121.2L2010.7,1121.2ZM2028.1,1083.7L2036.9,1110.6L2065.2,1110.6L2042.3,1127.3L2051.1,1154.2L2028.1,1137.6L2005.2,1154.2L2014.0,1127.3L1991.0,1110.6L2019.4,1110.6ZM2036.9,520.0L2045.6,546.9L2073.9,546.9L2051.0,563.6L2059.8,590.5L2036.9,573.9L2013.9,590.5L2022.7,563.6L1999.8,546.9L2028.1,546.9ZM2045.6,1214.8L2054.3,1241.8L2082.7,1241.8L2059.7,1258.4L2068.5,1285.4L2045.6,1268.7L2022.7,1285.4L2031.4,1258.4L2008.5,1241.8L2036.8,1241.8ZM2054.3,1090.2L2063.1,1117.1L2091.4,1117.1L2068.5,1133.8L2077.2,1160.7L2054.3,1144.1L2031.4,1160.7L2040.1,1133.8L2017.2,1117.1L2045.5,1117.1ZM2063.0,1086.4L2071.8,1113.3L2100.1,1113.3L2077.2,1130.0L2085.9,1156.9L2063.0,1140.3L2040.1,1156.9L2048.8,1130.0L2025.9,1113.3L2054.3,1113.3ZM2071.7,996.8L2080.5,1023.8L2108.8,1023.8L2085.9,1040.4L2094.7,1067.4L2071.7,1050.7L2048.8,1067.4L2057.6,1040.4L2034.6,1023.8L2063.0,1023.8ZM2080.4,1053.5L2089.2,1080.4L2117.5,1080.4L2094.6,1097.1L2103.4,1124.0L2080.4,1107.4L2057.5,1124.0L2066.3,1097.1L2043.4,1080.4L2071.7,1080.4ZM2089.2,949.0L2097.9,976.0L2126.3,976.0L2103.3,992.6L2112.1,1019.6L2089.2,1002.9L2066.2,1019.6L2075.0,992.6L2052.1,976.0L2080.4,976.0ZM2097.9,1096.0L2106.6,1123.0L2135.0,1123.0L2112.1,1139.6L2120.8,1166.6L2097.9,1149.9L2075.0,1166.6L2083.7,1139.6L2060.8,1123.0L2089.1,1123.0ZM2106.6,1022.2L2115.4,1049.1L2143.7,1049.1L2120.8,1065.8L2129.5,1092.7L2106.6,1076.1L2083.7,1092.7L2092.4,1065.8L2069.5,1049.1L2097.8,1049.1ZM2115.3,987.9L2124.1,1014.8L2152.4,1014.8L2129.5,1031.5L2138.2,1058.4L2115.3,1041.8L2092.4,1058.4L2101.2,1031.5L2078.2,1014.8L2106.6,1014.8ZM2124.0,1032.5L2132.8,1059.4L2161.1,1059.4L2138.2,1076.1L2147.0,1103.0L2124.0,1086.4L2101.1,1103.0L2109.9,1076.1L2087.0,1059.4L2115.3,1059.4ZM2132.8,1022.2L2141.5,1049.1L2169.9,1049.1L2146.9,1065.8L2155.7,1092.7L2132.8,1076.1L2109.8,1092.7L2118.6,1065.8L2095.7,1049.1L2124.0,1049.1ZM2141.5,1037.6L2150.2,1064.6L2178.6,1064.6L2155.6,1081.2L2164.4,1108.2L2141.5,1091.5L2118.6,1108.2L2127.3,1081.2L2104.4,1064.6L2132.7,1064.6ZM2150.2,1011.9L2159.0,1038.8L2187.3,1038.8L2164.4,1055.5L2173.1,1082.4L2150.2,1065.8L2127.3,1082.4L2136.0,1055.5L2113.1,1038.8L2141.4,1038.8ZM2158.9,948.0L2167.7,975.0L2196.0,975.0L2173.1,991.6L2181.8,1018.6L2158.9,1001.9L2136.0,1018.6L2144.7,991.6L2121.8,975.0L2150.2,975.0ZM2167.6,1096.4L2176.4,1123.3L2204.7,1123.3L2181.8,1140.0L2190.6,1166.9L2167.6,1150.2L2144.7,1166.9L2153.5,1140.0L2130.5,1123.3L2158.9,1123.3ZM2176.4,1083.2L2185.1,1110.1L2213.4,1110.1L2190.5,1126.8L2199.3,1153.7L2176.4,1137.1L2153.4,1153.7L2162.2,1126.8L2139.3,1110.1L2167.6,1110.1ZM2185.1,1005.1L2193.8,1032.0L2222.2,1032.0L2199.2,1048.7L2208.0,1075.6L2185.1,1059.0L2162.1,1075.6L2170.9,1048.7L2148.0,1032.0L2176.3,1032.0ZM2193.8,1114.2L2202.5,1141.1L2230.9,1141.1L2208.0,1157.8L2216.7,1184.7L2193.8,1168.1L2170.9,1184.7L2179.6,1157.8L2156.7,1141.1L2185.0,1141.1ZM2202.5,653.0L2211.3,679.9L2239.6,679.9L2216.7,696.6L2225.4,723.5L2202.5,706.9L2179.6,723.5L2188.3,696.6L2165.4,679.9L2193.7,679.9ZM2211.2,1284.9L2220.0,1311.8L2248.3,1311.8L2225.4,1328.5L2234.1,1355.4L2211.2,1338.8L2188.3,1355.4L2197.1,1328.5L2174.1,1311.8L2202.5,1311.8ZM2219.9,1077.7L2228.7,1104.7L2257.0,1104.7L2234.1,1121.3L2242.9,1148.3L2219.9,1131.6L2197.0,1148.3L2205.8,1121.3L2182.9,1104.7L2211.2,1104.7ZM2228.7,1023.2L2237.4,1050.2L2265.8,1050.2L2242.8,1066.8L2251.6,1093.8L2228.7,1077.1L2205.7,1093.8L2214.5,1066.8L2191.6,1050.2L2219.9,1050.2ZM2237.4,1071.0L2246.1,1098.0L2274.5,1098.0L2251.5,1114.6L2260.3,1141.6L2237.4,1124.9L2214.5,1141.6L2223.2,1114.6L2200.3,1098.0L2228.6,1098.0ZM2246.1,1048.8L2254.9,1075.7L2283.2,1075.7L2260.3,1092.4L2269.0,1119.3L2246.1,1102.7L2223.2,1119.3L2231.9,1092.4L2209.0,1075.7L2237.3,1075.7ZM2254.8,1111.3L2263.6,1138.2L2291.9,1138.2L2269.0,1154.9L2277.7,1181.8L2254.8,1165.2L2231.9,1181.8L2240.6,1154.9L2217.7,1138.2L2246.1,1138.2ZM2263.5,1028.8L2272.3,1055.7L2300.6,1055.7L2277.7,1072.4L2286.5,1099.3L2263.5,1082.7L2240.6,1099.3L2249.4,1072.4L2226.4,1055.7L2254.8,1055.7ZM2272.3,949.0L2281.0,976.0L2309.3,976.0L2286.4,992.6L2295.2,1019.6L2272.3,1002.9L2249.3,1019.6L2258.1,992.6L2235.2,976.0L2263.5,976.0ZM2281.0,1053.1L2289.7,1080.0L2318.1,1080.0L2295.1,1096.7L2303.9,1123.6L2281.0,1107.0L2258.0,1123.6L2266.8,1096.7L2243.9,1080.0L2272.2,1080.0ZM2289.7,1124.6L2298.4,1151.5L2326.8,1151.5L2303.9,1168.2L2312.6,1195.1L2289.7,1178.5L2266.8,1195.1L2275.5,1168.2L2252.6,1151.5L2280.9,1151.5ZM2298.4,1066.0L2307.2,1092.9L2335.5,1092.9L2312.6,1109.6L2321.3,1136.5L2298.4,1119.9L2275.5,1136.5L2284.2,1109.6L2261.3,1092.9L2289.7,1092.9ZM2307.1,1062.4L2315.9,1089.3L2344.2,1089.3L2321.3,1106.0L2330.1,1132.9L2307.1,1116.3L2284.2,1132.9L2293.0,1106.0L2270.0,1089.3L2298.4,1089.3ZM2315.8,1085.4L2324.6,1112.4L2352.9,1112.4L2330.0,1129.0L2338.8,1156.0L2315.8,1139.3L2292.9,1156.0L2301.7,1129.0L2278.8,1112.4L2307.1,1112.4ZM2324.6,817.7L2333.3,844.6L2361.7,844.6L2338.7,861.3L2347.5,888.2L2324.6,871.6L2301.6,888.2L2310.4,861.3L2287.5,844.6L2315.8,844.6ZM2333.3,648.0L2342.0,675.0L2370.4,675.0L2347.5,691.6L2356.2,718.6L2333.3,701.9L2310.4,718.6L2319.1,691.6L2296.2,675.0L2324.5,675.0ZM2342.0,1132.9L2350.8,1159.9L2379.1,1159.9L2356.2,1176.5L2364.9,1203.5L2342.0,1186.8L2319.1,1203.5L2327.8,1176.5L2304.9,1159.9L2333.2,1159.9Z"/>
</g>
<g id="ekf" fill="none" stroke="#ff0000" stroke-width="13" stroke-dasharray="49.2 49.2" stroke-linejoin="round">
<polyline points="258.3,1319.2 267.0,1136.4 275.8,1119.9 284.5,1113.1 293.2,1071.5 301.9,1073.5 310.6,1168.3 319.3,1121.1 328.1,1151.8 336.8,1098.0 345.5,1006.6 354.2,1177.6 362.9,1124.7 371.7,1068.4 380.4,1135.4 389.1,1103.3 397.8,1111.1 406.5,1063.2 415.2,1172.4 424.0,1125.5" stroke-dashoffset="0.0"/>
<polyline points="424.0,1125.5 432.7,1104.7 441.4,1126.4 450.1,1139.5 458.8,1108.1 467.6,1124.9 476.3,1037.5 485.0,1123.9 493.7,1108.5 502.4,1037.5 511.1,1159.0 519.9,1089.8 528.6,1122.4 537.3,999.9 546.0,1117.8 554.7,1099.1 563.5,1035.9 572.2,1084.3 580.9,1088.0 589.6,1132.3 598.3,1099.7 607.1,1101.4 615.8,608.9 624.5,899.4 633.2,1168.9 641.9,1109.7 650.6,1043.7" stroke-dashoffset="52.0"/>
<polyline points="650.6,1043.7 659.4,1082.9 668.1,1126.0 676.8,940.6 685.5,1088.4 694.2,1114.7 703.0,1040.6 711.7,1121.4 720.4,1122.7 729.1,1074.1 737.8,1129.2 746.5,1037.8 755.3,1159.4 764.0,1113.8 772.7,1090.3" stroke-dashoffset="54.2"/>
<polyline points="772.7,1090.3 781.4,1119.8 790.1,1072.5 798.9,1116.8 807.6,1101.1 816.3,1051.2 825.0,1055.0 833.7,1098.5 842.4,1110.8 851.2,1102.8 859.9,1134.7 868.6,1050.4 877.3,1177.6 886.0,1125.3 894.8,1125.4 903.5,1118.6" stroke-dashoffset="0.0"/>
<polyline points="903.5,1118.6 912.2,1096.6 920.9,1077.7 929.6,1122.3 938.3,1076.6 947.1,1151.8 955.8,474.0 964.5,1248.7 973.2,1108.4 981.9,1156.5 990.7,1113.6" stroke-dashoffset="83.2"/>
<polyline points="990.7,1113.6 999.4,1035.0 1008.1,1100.9 1016.8,1107.1 1025.5,184.4 1034.2,1434.6 1043.0,1212.6 1051.7,1090.2 1060.4,1087.2 1069.1,1135.4 1077.8,997.9 1086.6,1114.2 1095.3,1015.8 1104.0,1061.2 1112.7,1103.4 1121.4,1104.4" stroke-dashoffset="49.7"/>
<polyline points="1121.4,1104.4 1130.2,1091.4 1138.9,1095.7 1147.6,1147.1 1156.3,1041.7 1165.0,1086.9 1173.7,1116.8 1182.5,1092.1 1191.2,1101.6" stroke-dashoffset="0.0"/>
<polyline points="1191.2,1101.6 1199.9,1103.8 1208.6,1062.6 1217.3,1119.9 1226.1,608.0 1234.8,1190.0 1243.5,1087.6 1252.2,1077.7" stroke-dashoffset="63.3"/>
<polyline points="1252.2,1077.7 1260.9,1094.4 1269.6,1099.7 1278.4,877.8 1287.1,1227.6 1295.8,1114.7" stroke-dashoffset="31.5"/>
<polyline points="1295.8,1114.7 1304.5,1082.7 1313.2,580.6 1322.0,1283.7 1330.7,1142.3 1339.4,1122.7 1348.1,1066.3 1356.8,1108.8 1365.5,1065.3 1374.3,1029.2 1383.0,1050.9 1391.7,1093.0" stroke-dashoffset="61.5"/>
<polyline points="1391.7,1093.0 1400.4,1121.1 1409.1,1047.3 1417.9,1046.8 1426.6,1037.8 1435.3,1133.7 1444.0,1105.5 1452.7,1126.3 1461.4,1090.2 1470.2,570.0 1478.9,1172.7 1487.6,1097.1 1496.3,1092.7 1505.0,1066.3 1513.8,1101.6 1522.5,1056.0 1531.2,1087.6 1539.9,1023.5 1548.6,1199.2 1557.3,1113.6 1566.1,1056.0 1574.8,1128.1 1583.5,1069.4 1592.2,1095.9 1600.9,1100.6" stroke-dashoffset="10.7"/>
<polyline points="1600.9,1100.6 1609.7,1101.3 1618.4,1022.5 1627.1,1107.0 1635.8,1089.2 1644.5,1009.7 1653.3,1184.8 1662.0,1084.4 1670.7,979.4 1679.4,1106.2 1688.1,1150.3 1696.8,1097.3 1705.6,1019.2 1714.3,1125.4 1723.0,1027.9 1731.7,1095.6 1740.4,1098.2 1749.2,1125.6 1757.9,1082.1 1766.6,1009.9 1775.3,1144.6 1784.0,1086.9" stroke-dashoffset="0.0"/>
<polyline points="1784.0,1086.9 1792.7,1090.0 1801.5,1092.1 1810.2,1135.4 1818.9,1115.0 1827.6,559.0 1836.3,1255.9 1845.1,1110.2 1853.8,1061.2 1862.5,1029.8 1871.2,1031.7 1879.9,1132.3 1888.6,1092.1 1897.4,1097.1 1906.1,1147.5 1914.8,1133.3 1923.5,1089.7 1932.2,1095.2" stroke-dashoffset="81.7"/>
<polyline points="1932.2,1095.2 1941.0,1127.1 1949.7,1156.5 1958.4,1042.2 1967.1,1106.7 1975.8,1062.2 1984.5,1134.8 1993.3,1065.0 2002.0,1076.6 2010.7,1120.3 2019.4,1133.3 2028.1,1122.7 2036.9,559.0 2045.6,1253.8 2054.3,1129.2 2063.0,1125.4 2071.7,1035.8 2080.4,1092.5 2089.2,988.0 2097.9,1135.0 2106.6,1061.2 2115.3,1026.9 2124.0,1071.5" stroke-dashoffset="71.7"/>
<polyline points="2124.0,1071.5 2132.8,1061.2 2141.5,1076.6 2150.2,1050.9 2158.9,987.0 2167.6,1135.4 2176.4,1122.2 2185.1,1044.1 2193.8,1153.2 2202.5,692.0 2211.2,1323.9 2219.9,1116.7 2228.7,1062.2 2237.4,1110.0 2246.1,1087.8 2254.8,1150.3 2263.5,1067.8 2272.3,988.0" stroke-dashoffset="77.9"/>
<polyline points="2272.3,988.0 2281.0,1092.1 2289.7,1163.6 2298.4,1105.0 2307.1,1101.4 2315.8,1124.4 2324.6,856.7 2333.3,687.0 2342.0,1171.9" stroke-dashoffset="71.2"/>
</g>
<g id="true">
<rect x="254.3" y="1093.5" width="2091.7" height="39.4" fill="#0000ff" fill-opacity="0.5"/>
<path d="M258.3,1093.5v39.4M267.0,1093.5v39.4M275.8,1093.5v39.4M284.5,1093.5v39.4M293.2,1093.5v39.4M301.9,1093.5v39.4M310.6,1093.5v39.4M319.3,1093.5v39.4M328.1,1093.5v39.4M336.8,1093.5v39.4M345.5,1093.5v39.4M354.2,1093.5v39.4M362.9,1093.5v39.4M371.7,1093.5v39.4M380.4,1093.5v39.4M389.1,1093.5v39.4M397.8,1093.5v39.4M406.5,1093.5v39.4M415.2,1093.5v39.4M424.0,1093.5v39.4M432.7,1093.5v39.4M441.4,1093.5v39.4M450.1,1093.5v39.4M458.8,1093.5v39.4M467.6,1093.5v39.4M476.3,1093.5v39.4M485.0,1093.5v39.4M493.7,1093.5v39.4M502.4,1093.5v39.4M511.1,1093.5v39.4M519.9,1093.5v39.4M528.6,1093.5v39.4M537.3,1093.5v39.4M546.0,1093.5v39.4M554.7,1093.5v39.4M563.5,1093.5v39.4M572.2,1093.5v39.4M580.9,1093.5v39.4M589.6,1093.5v39.4M598.3,1093.5v39.4M607.1,1093.5v39.4M615.8,1093.5v39.4M624.5,1093.5v39.4M633.2,1093.5v39.4M641.9,1093.5v39.4M650.6,1093.5v39.4M659.4,1093.5v39.4M668.1,1093.5v39.4M676.8,1093.5v39.4M685.5,1093.5v39.4M694.2,1093.5v39.4M703.0,1093.5v39.4M711.7,1093.5v39.4M720.4,1093.5v39.4M729.1,1093.5v39.4M737.8,1093.5v39.4M746.5,1093.5v39.4M755.3,1093.5v39.4M764.0,1093.5v39.4M772.7,1093.5v39.4M781.4,1093.5v39.4M790.1,1093.5v39.4M798.9,1093.5v39.4M807.6,1093.5v39.4M816.3,1093.5v39.4M825.0,1093.5v39.4M833.7,1093.5v39.4M842.4,1093.5v39.4M851.2,1093.5v39.4M859.9,1093.5v39.4M868.6,1093.5v39.4M877.3,1093.5v39.4M886.0,1093.5v39.4M894.8,1093.5v39.4M903.5,1093.5v39.4M912.2,1093.5v39.4M920.9,1093.5v39.4M929.6,1093.5v39.4M938.3,1093.5v39.4M947.1,1093.5v39.4M955.8,1093.5v39.4M964.5,1093.5v39.4M973.2,1093.5v39.4M981.9,1093.5v39.4M990.7,1093.5v39.4M999.4,1093.5v39.4M1008.1,1093.5v39.4M1016.8,1093.5v39.4M1025.5,1093.5v39.4M1034.2,1093.5v39.4M1043.0,1093.5v39.4M1051.7,1093.5v39.4M1060.4,1093.5v39.4M1069.1,1093.5v39.4M1077.8,1093.5v39.4M1086.6,1093.5v39.4M1095.3,1093.5v39.4M1104.0,1093.5v39.4M1112.7,1093.5v39.4M1121.4,1093.5v39.4M1130.2,1093.5v39.4M1138.9,1093.5v39.4M1147.6,1093.5v39.4M1156.3,1093.5v39.4M1165.0,1093.5v39.4M1173.7,1093.5v39.4M1182.5,1093.5v39.4M1191.2,1093.5v39.4M1199.9,1093.5v39.4M1208.6,1093.5v39.4M1217.3,1093.5v39.4M1226.1,1093.5v39.4M1234.8,1093.5v39.4M1243.5,1093.5v39.4M1252.2,1093.5v39.4M1260.9,1093.5v39.4M1269.6,1093.5v39.4M1278.4,1093.5v39.4M1287.1,1093.5v39.4M1295.8,1093.5v39.4M1304.5,1093.5v39.4M1313.2,1093.5v39.4M1322.0,1093.5v39.4M1330.7,1093.5v39.4M1339.4,1093.5v39.4M1348.1,1093.5v39.4M1356.8,1093.5v39.4M1365.5,1093.5v39.4M1374.3,1093.5v39.4M1383.0,1093.5v39.4M1391.7,1093.5v39.4M1400.4,1093.5v39.4M1409.1,1093.5v39.4M1417.9,1093.5v39.4M1426.6,1093.5v39.4M1435.3,1093.5v39.4M1444.0,1093.5v39.4M1452.7,1093.5v39.4M1461.4,1093.5v39.4M1470.2,1093.5v39.4M1478.9,1093.5v39.4M1487.6,1093.5v39.4M1496.3,1093.5v39.4M1505.0,1093.5v39.4M1513.8,1093.5v39.4M1522.5,1093.5v39.4M1531.2,1093.5v39.4M1539.9,1093.5v39.4M1548.6,1093.5v39.4M1557.3,1093.5v39.4M1566.1,1093.5v39.4M1574.8,1093.5v39.4M1583.5,1093.5v39.4M1592.2,1093.5v39.4M1600.9,1093.5v39.4M1609.7,1093.5v39.4M1618.4,1093.5v39.4M1627.1,1093.5v39.4M1635.8,1093.5v39.4M1644.5,1093.5v39.4M1653.3,1093.5v39.4M1662.0,1093.5v39.4M1670.7,1093.5v39.4M1679.4,1093.5v39.4M1688.1,1093.5v39.4M1696.8,1093.5v39.4M1705.6,1093.5v39.4M1714.3,1093.5v39.4M1723.0,1093.5v39.4M1731.7,1093.5v39.4M1740.4,1093.5v39.4M1749.2,1093.5v39.4M1757.9,1093.5v39.4M1766.6,1093.5v39.4M1775.3,1093.5v39.4M1784.0,1093.5v39.4M1792.7,1093.5v39.4M1801.5,1093.5v39.4M1810.2,1093.5v39.4M1818.9,1093.5v39.4M1827.6,1093.5v39.4M1836.3,1093.5v39.4M1845.1,1093.5v39.4M1853.8,1093.5v39.4M1862.5,1093.5v39.4M1871.2,1093.5v39.4M1879.9,1093.5v39.4M1888.6,1093.5v39.4M1897.4,1093.5v39.4M1906.1,1093.5v39.4M1914.8,1093.5v39.4M1923.5,1093.5v39.4M1932.2,1093.5v39.4M1941.0,1093.5v39.4M1949.7,1093.5v39.4M1958.4,1093.5v39.4M1967.1,1093.5v39.4M1975.8,1093.5v39.4M1984.5,1093.5v39.4M1993.3,1093.5v39.4M2002.0,1093.5v39.4M2010.7,1093.5v39.4M2019.4,1093.5v39.4M2028.1,1093.5v39.4M2036.9,1093.5v39.4M2045.6,1093.5v39.4M2054.3,1093.5v39.4M2063.0,1093.5v39.4M2071.7,1093.5v39.4M2080.4,1093.5v39.4M2089.2,1093.5v39.4M2097.9,1093.5v39.4M2106.6,1093.5v39.4M2115.3,1093.5v39.4M2124.0,1093.5v39.4M2132.8,1093.5v39.4M2141.5,1093.5v39.4M2150.2,1093.5v39.4M2158.9,1093.5v39.4M2167.6,1093.5v39.4M2176.4,1093.5v39.4M2185.1,1093.5v39.4M2193.8,1093.5v39.4M2202.5,1093.5v39.4M2211.2,1093.5v39.4M2219.9,1093.5v39.4M2228.7,1093.5v39.4M2237.4,1093.5v39.4M2246.1,1093.5v39.4M2254.8,1093.5v39.4M2263.5,1093.5v39.4M2272.3,1093.5v39.4M2281.0,1093.5v39.4M2289.7,1093.5v39.4M2298.4,1093.5v39.4M2307.1,1093.5v39.4M2315.8,1093.5v39.4M2324.6,1093.5v39.4M2333.3,1093.5v39.4M2342.0,1093.5v39.4" stroke="#0000ff" stroke-width="5.0" fill="none"/>
<path d="M237.1,1113.2H2363.5" stroke="#0000ff" stroke-width="6" fill="none"/>
</g>
<g id="ticklabels" font-size="64.5">
<text x="248.9" y="1823.0" text-anchor="middle">0</text>
<text x="684.5" y="1823.0" text-anchor="middle">50</text>
<text x="1123.8" y="1823.0" text-anchor="middle" textLength="104.6" lengthAdjust="spacing">100</text>
<text x="1559.6" y="1823.0" text-anchor="middle" textLength="104.6" lengthAdjust="spacing">150</text>
<text x="1994.3" y="1823.0" text-anchor="middle">200</text>
<text x="223.8" y="106.2" text-anchor="end">2</text>
<text x="222.8" y="312.6" text-anchor="end" textLength="86.4" lengthAdjust="spacing">1.8</text>
<text x="222.8" y="519.5" text-anchor="end" textLength="86.4" lengthAdjust="spacing">1.6</text>
<text x="222.8" y="726.1" text-anchor="end" textLength="86.4" lengthAdjust="spacing">1.4</text>
<text x="222.8" y="929.5" text-anchor="end" textLength="86.4" lengthAdjust="spacing">1.2</text>
<text x="222.0" y="1136.2" text-anchor="end">1</text>
<text x="222.8" y="1343.6" text-anchor="end" textLength="86.4" lengthAdjust="spacing">0.8</text>
<text x="222.8" y="1550.9" text-anchor="end" textLength="86.4" lengthAdjust="spacing">0.6</text>
<text x="222.8" y="1757.4" text-anchor="end" textLength="86.4" lengthAdjust="spacing">0.4</text>
</g>
<text id="xlabel" x="1295.9" y="1917.0" font-size="70.8" text-anchor="middle" textLength="1056.8" lengthAdjust="spacing">Number of samples(IT-1 Building)</text>
<text id="ylabel" transform="translate(95.5,904.2) rotate(-90)" font-size="70.8" text-anchor="middle">Estimated distance value</text>
<g id="legend">
<rect x="1352.7" y="132.2" width="938.6" height="253.2" fill="#ffffff" stroke="#262626" stroke-width="3.2"/>
<path d="M1467.5,139.5L1476.3,166.4L1504.6,166.4L1481.7,183.1L1490.4,210.1L1467.5,193.4L1444.6,210.1L1453.3,183.1L1430.4,166.4L1458.7,166.4Z" fill="#00ff00"/>
<path d="M1370.2,258.3H1422.1 M1471.7,258.3H1520.8" stroke="#ff0000" stroke-width="13.5" fill="none"/>
<path d="M1370.2,338.5H1566.2" stroke="#0000ff" stroke-width="6" fill="none"/>
<path d="M1467.0,318.8V358.4" stroke="#0000ff" stroke-width="7.5" fill="none"/>
<g font-size="58.0" fill="#000000" style="fill:#000">
<text x="1579" y="201" style="fill:#111">Estimated distance value</text>
<text x="1579" y="279" style="fill:#111">EKF filtering process</text>
<text x="1579" y="358" textLength="692.5" lengthAdjust="spacing" style="fill:#111">True distance value(d=1m)</text>
</g></g>
</svg></body></html>
